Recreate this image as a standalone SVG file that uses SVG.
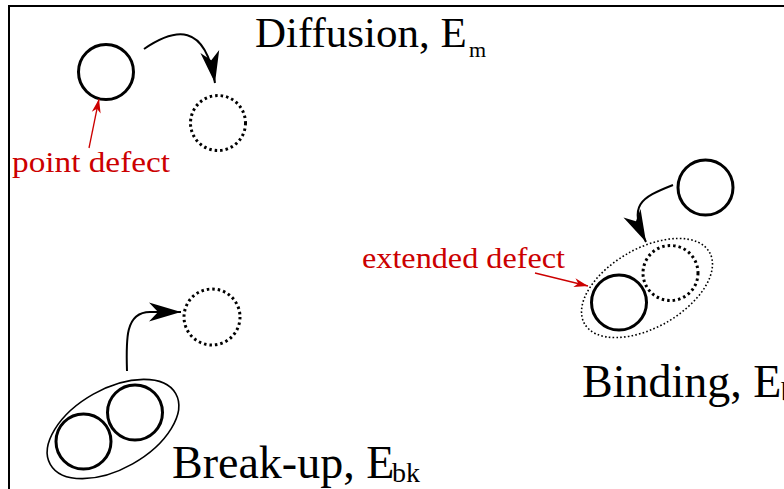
<svg xmlns="http://www.w3.org/2000/svg" width="784" height="489" viewBox="0 0 784 489">
<style>
.solid{fill:none;stroke:#000;stroke-width:3}
.dotc{fill:none;stroke:#000;stroke-width:3;stroke-dasharray:2.5 3}
.dote{fill:none;stroke:#000;stroke-width:1.6;stroke-dasharray:1.6 2.2}
.outer{fill:none;stroke:#000;stroke-width:1.6}
.arr{fill:none;stroke:#000;stroke-width:2;marker-end:url(#bh)}
.rarr{fill:none;stroke:#cc0000;stroke-width:1.3;marker-end:url(#rh)}
.lbl{font-family:"Liberation Serif","Times New Roman",serif;fill:#000}
.red{font-family:"Liberation Serif","Times New Roman",serif;fill:#cc0000;font-size:29px}
</style>
<defs>
<marker id="bh" markerUnits="userSpaceOnUse" viewBox="-34 -12 36 24" refX="0" refY="0" markerWidth="36" markerHeight="24" orient="auto">
<path d="M0,0 L-32,-9.5 L-23,0 L-32,9.5 Z" fill="#000"/>
</marker>
<marker id="rh" markerUnits="userSpaceOnUse" viewBox="-16 -8 18 16" refX="0" refY="0" markerWidth="18" markerHeight="16" orient="auto">
<path d="M0,0 L-14,-4.5 L-10,0 L-14,4.5 Z" fill="#cc0000"/>
</marker>
</defs>
<g id="frame" fill="none" stroke="#000" stroke-width="2">
<path d="M9,489 L9,6 L784,6"/>
</g>
<g id="diffusion">
<circle id="pd1" class="solid" cx="106" cy="72" r="27.5"/>
<circle id="vac1" class="dotc" cx="218" cy="123" r="27.5"/>
<text class="lbl" x="255" y="47" font-size="43">Diffusion, E</text>
<text class="lbl" x="469" y="57" font-size="22">m</text>
</g>
<g id="point-defect-label">
<text class="red" x="12" y="172" textLength="158" lengthAdjust="spacingAndGlyphs">point defect</text>
</g>
<g id="binding">
<circle id="pd2" class="solid" cx="705.5" cy="187.5" r="27.5"/>
<ellipse id="ext1" class="dote" cx="647" cy="288" rx="72" ry="39.5" transform="rotate(-29.8 647 288)"/>
<circle id="vac2" class="dotc" cx="670.5" cy="273" r="27.5"/>
<circle id="pd3" class="solid" cx="619" cy="302.5" r="27.5"/>
<text class="lbl" x="582" y="397" font-size="46">Binding, E</text>
<text class="lbl" x="781" y="401" font-size="28">b</text>
</g>
<g id="extended-defect-label">
<text class="red" x="362" y="268" textLength="203" lengthAdjust="spacingAndGlyphs">extended defect</text>
</g>
<g id="breakup">
<ellipse id="ext2" class="outer" cx="113" cy="429" rx="72" ry="40" transform="rotate(-29.4 113 429)"/>
<circle id="pd4" class="solid" cx="83.5" cy="441.5" r="27.5"/>
<circle id="pd5" class="solid" cx="135" cy="412.5" r="27.5"/>
<circle id="vac3" class="dotc" cx="212" cy="317" r="28"/>
<text class="lbl" x="172" y="478" font-size="46">Break-up, E</text>
<text class="lbl" x="392" y="482" font-size="28">bk</text>
</g>
<g id="connectors">
<path class="arr" d="M144,49 C175,28 205,22 215,83"/>
<path class="arr" d="M673,185 C640,198 628,205 646,242"/>
<path class="arr" d="M127,371 C126,340 125,312 150,312 L181,312"/>
<path class="rarr" d="M89,148 L99,99"/>
<path class="rarr" d="M535,273 L588,286"/>
</g>
</svg>
